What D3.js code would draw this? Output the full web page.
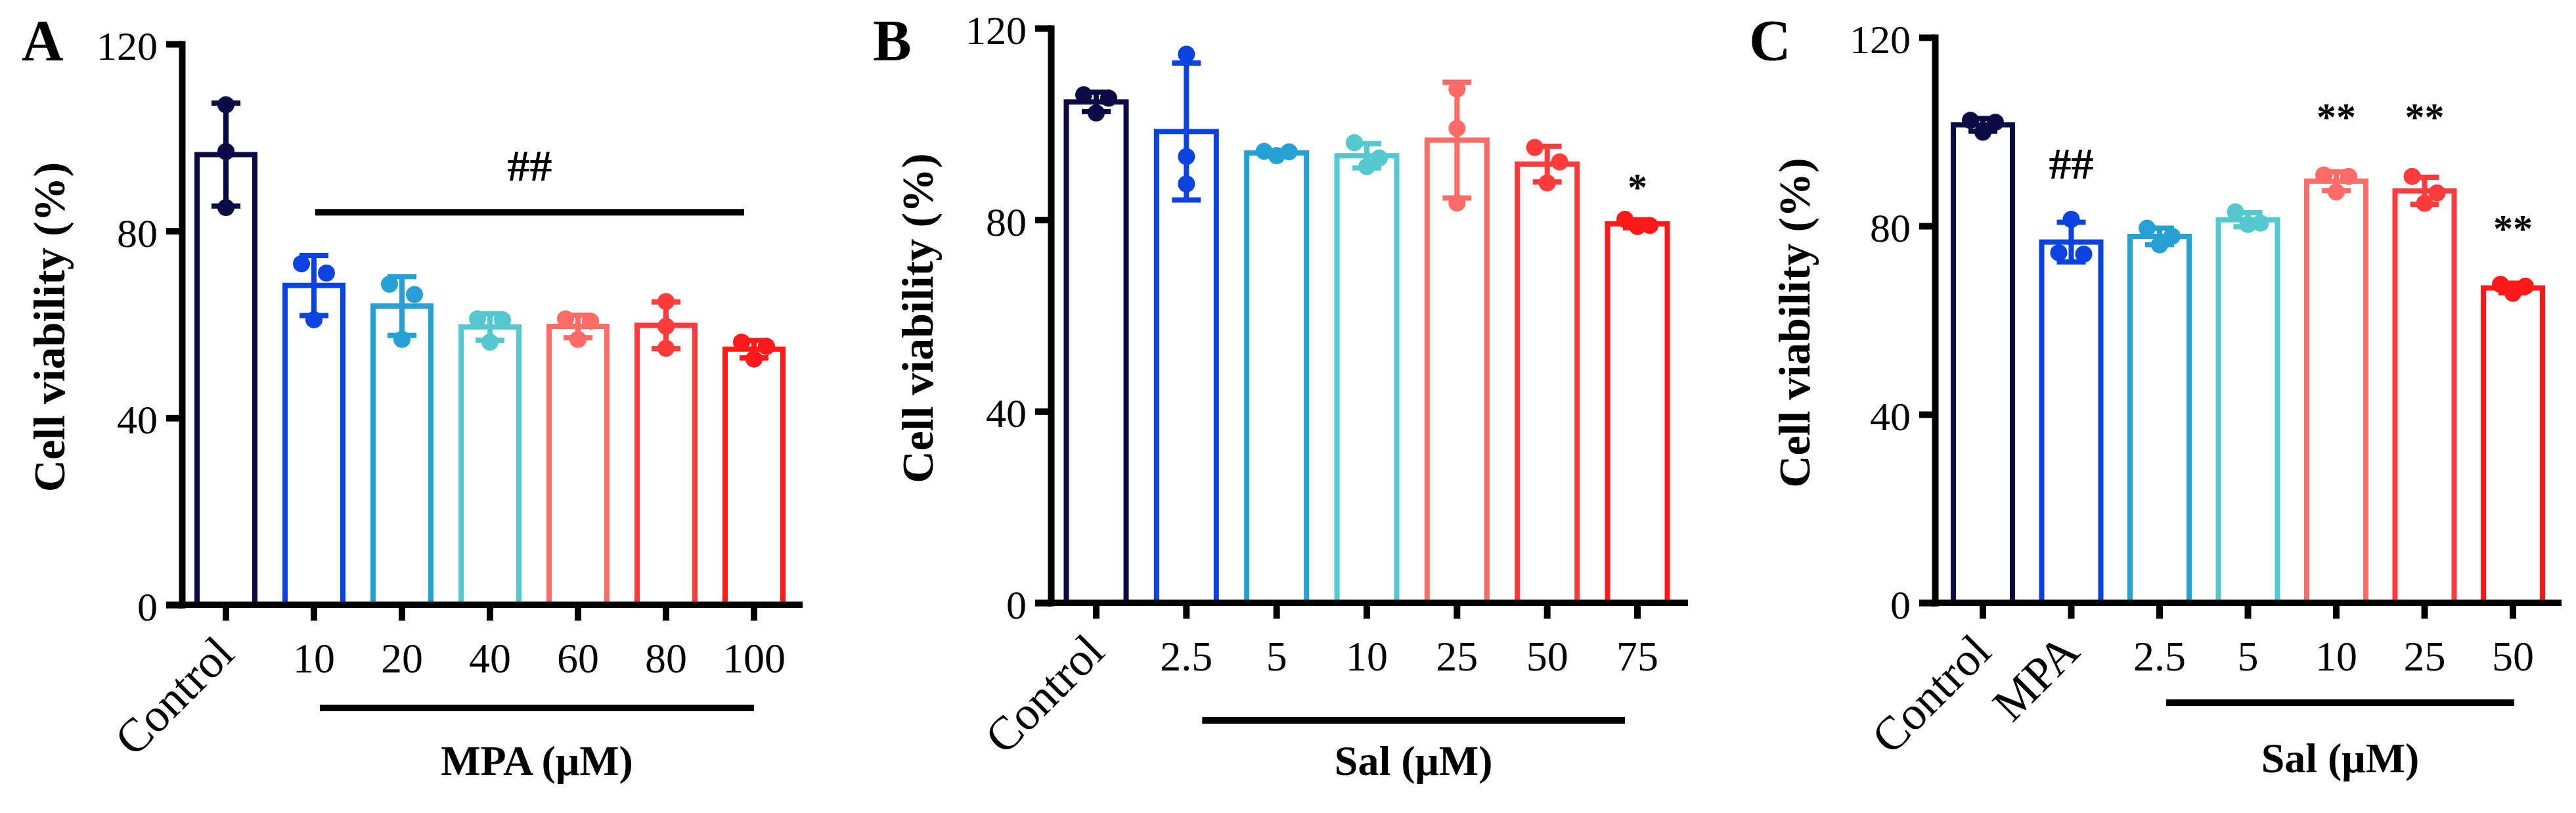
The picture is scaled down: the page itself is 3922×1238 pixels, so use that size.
<!DOCTYPE html>
<html>
<head>
<meta charset="utf-8">
<script src="https://cdn.jsdelivr.net/npm/d3@7"></script>
<style>
  body { margin: 0; background: #fff; }
  svg { display: block; }
</style>
</head>
<body>
<div id="chart"></div>
<script>
// ---- data (cell viability %, three replicates per group) ----
const catsA = ["Control", "10", "20", "40", "60", "80", "100"];
const repsA = [
  [107, 97, 85], [73, 71, 61], [68.6, 66.4, 56.8], [61.2, 61, 56.2],
  [61.2, 60.7, 56.8], [64.9, 59.6, 54.9], [56.2, 55.3, 52.6]
];
const catsB = ["Control", "2.5", "5", "10", "25", "50", "75"];
const repsB = [
  [106.1, 105.4, 102.3], [114.6, 93.2, 87.5], [94.3, 94.2, 93.4], [96.1, 92.9, 91.1],
  [107.3, 99.1, 83.5], [95.1, 92.1, 87.7], [80.1, 78.8, 78.6]
];
const catsC = ["Control", "MPA", "2.5", "5", "10", "25", "50"];
const repsC = [
  [102.4, 102, 99.9], [81.4, 74.3, 74], [79.5, 77.8, 76], [83, 80.6, 80.3],
  [90.8, 90.5, 87.2], [90.5, 87, 84.8], [67.6, 67.2, 65.7]
];
const barColors = ["#0b0c45", "#0a43e0", "#26a1d6", "#54c9cf", "#ff6b66", "#ff3b3b", "#ff1a1a"];
const yTicks = [0, 40, 80, 120];
const yTitle = "Cell viability (%)";
const groupA = "MPA (μM)";
const groupB = "Sal (μM)";
const groupC = "Sal (μM)";
// significance marks: text placed over a category (value = height on the y scale)
const marksA = [{ from: "10", to: "100", line: 84, text: "##", at: 94 }];
const marksB = [{ from: "75", text: "*", at: 87.9 }];
const marksC = [
  { from: "MPA", text: "##", at: 93.3 },
  { from: "10", text: "**", at: 104.3 },
  { from: "25", text: "**", at: 104.3 },
  { from: "50", text: "**", at: 80.6 }
];

const W = 3922, H = 1238;
const serif = "'Liberation Serif', 'Times New Roman', serif";
const tick = 24;

const svg = d3.select("#chart").append("svg")
  .attr("width", W).attr("height", H);

const panels = [
  { letter: "A", cats: catsA, reps: repsA, marks: marksA, group: groupA, groupCats: ["10", "100"],
    axisX: 277, axisEnd: 1222, yTop: 67, yBot: 921, firstC: 344, lastC: 1148, barW: 88,
    bracketY: 1078, bracketInset: [9, 0], groupY: 1180, titleX: 98, letterX: 33 },
  { letter: "B", cats: catsB, reps: repsB, marks: marksB, group: groupB, groupCats: ["2.5", "75"],
    axisX: 1600, axisEnd: 2570, yTop: 43, yBot: 918, firstC: 1669, lastC: 2493, barW: 91,
    bracketY: 1097, bracketInset: [24, -19], groupY: 1180, titleX: 1420, letterX: 1329 },
  { letter: "C", cats: catsC, reps: repsC, marks: marksC, group: groupC, groupCats: ["2.5", "50"],
    axisX: 2946, axisEnd: 3900, yTop: 57, yBot: 918, firstC: 3019, lastC: 3826, barW: 90,
    bracketY: 1070, bracketInset: [10, 2], groupY: 1176, titleX: 2755, letterX: 2663 }
];

// spread replicate dots: rows of up to 2 dots when they would overlap
function dotOffsets(vals, y) {
  const order = vals.map((v, i) => i).sort((a, b) => vals[b] - vals[a]);
  const off = new Array(vals.length).fill(0);
  let row = [];
  const flush = () => {
    if (row.length === 2) { off[row[0]] = -19; off[row[1]] = 19; }
    else if (row.length === 1) off[row[0]] = 0;
    row = [];
  };
  order.forEach(i => {
    if (row.length && (row.length >= 2 || y(vals[i]) - y(vals[row[0]]) > 26)) flush();
    row.push(i);
  });
  flush();
  return off;
}

panels.forEach(p => {
  const g = svg.append("g");
  const y = d3.scaleLinear().domain([0, 120]).range([p.yBot, p.yTop]);
  const step = (p.lastC - p.firstC) / (p.cats.length - 1);
  const pad = 1 - p.barW / step;
  const x = d3.scaleBand().domain(p.cats)
    .range([p.firstC - step / 2, p.lastC + step / 2])
    .paddingInner(pad).paddingOuter(pad / 2);
  const cx = c => x(c) + x.bandwidth() / 2;

  const stats = p.reps.map((r, i) => ({
    cat: p.cats[i], reps: r, mean: d3.mean(r), sd: d3.deviation(r), color: barColors[i]
  }));

  // bars
  g.selectAll("rect.bar").data(stats).join("rect")
    .attr("class", "bar")
    .attr("x", d => x(d.cat))
    .attr("width", x.bandwidth())
    .attr("y", d => y(d.mean))
    .attr("height", d => y(0) - y(d.mean))
    .attr("fill", "#fff")
    .attr("stroke", d => d.color)
    .attr("stroke-width", 8);

  // error bars
  const eb = g.selectAll("g.err").data(stats).join("g").attr("class", "err")
    .attr("stroke", d => d.color).attr("stroke-width", 8);
  eb.append("line")
    .attr("x1", d => cx(d.cat)).attr("x2", d => cx(d.cat))
    .attr("y1", d => y(d.mean + d.sd)).attr("y2", d => y(d.mean - d.sd));
  eb.append("line")
    .attr("x1", d => cx(d.cat) - 22).attr("x2", d => cx(d.cat) + 22)
    .attr("y1", d => y(d.mean + d.sd)).attr("y2", d => y(d.mean + d.sd));
  eb.append("line")
    .attr("x1", d => cx(d.cat) - 22).attr("x2", d => cx(d.cat) + 22)
    .attr("y1", d => y(d.mean - d.sd)).attr("y2", d => y(d.mean - d.sd));

  // replicate dots
  stats.forEach(s => {
    const off = dotOffsets(s.reps, y);
    g.selectAll(null).data(s.reps).join("circle")
      .attr("cx", (d, i) => cx(s.cat) + off[i])
      .attr("cy", d => y(d))
      .attr("r", 13)
      .attr("fill", s.color);
  });

  // y axis
  const ya = g.append("g")
    .attr("transform", `translate(${p.axisX},0)`)
    .call(d3.axisLeft(y).tickValues(yTicks).tickSize(tick).tickSizeOuter(0).tickPadding(13));
  ya.select(".domain").attr("stroke", "#000").attr("stroke-width", 10).attr("stroke-linecap", "square");
  ya.selectAll(".tick line").attr("stroke", "#000").attr("stroke-width", 10);
  ya.selectAll(".tick text")
    .attr("font-family", serif).attr("font-size", 62).attr("fill", "#000")
    .attr("dy", "0.38em");

  // x axis
  const xa = g.append("g")
    .attr("transform", `translate(0,${y(0)})`)
    .call(d3.axisBottom(x).tickSize(tick).tickSizeOuter(0).tickPadding(34));
  xa.select(".domain").remove();
  xa.append("line")
    .attr("x1", p.axisX - tick).attr("x2", p.axisEnd)
    .attr("stroke", "#000").attr("stroke-width", 10);
  xa.selectAll(".tick line").attr("stroke", "#000").attr("stroke-width", 10);
  xa.selectAll(".tick text")
    .attr("font-family", serif).attr("font-size", 64).attr("fill", "#000")
    .filter(d => isNaN(+d))
    .attr("y", null).attr("dy", null)
    .attr("font-size", 72)
    .attr("text-anchor", "end")
    .attr("transform", "translate(16,78) rotate(-45)");

  // group bracket and label under the axis
  const gx1 = cx(p.groupCats[0]) + p.bracketInset[0];
  const gx2 = cx(p.groupCats[1]) + p.bracketInset[1];
  g.append("line")
    .attr("x1", gx1).attr("x2", gx2)
    .attr("y1", p.bracketY).attr("y2", p.bracketY)
    .attr("stroke", "#000").attr("stroke-width", 10);
  g.append("text")
    .attr("x", (gx1 + gx2) / 2).attr("y", p.groupY)
    .attr("text-anchor", "middle")
    .attr("font-family", serif).attr("font-weight", "bold").attr("font-size", 64)
    .text(p.group);

  // y title
  g.append("text")
    .attr("transform", `translate(${p.titleX},${(p.yTop + p.yBot) / 2 + 4}) rotate(-90)`)
    .attr("text-anchor", "middle")
    .attr("font-family", serif).attr("font-weight", "bold").attr("font-size", 68)
    .text(yTitle);

  // panel letter
  g.append("text")
    .attr("x", p.letterX).attr("y", 91)
    .attr("font-family", serif).attr("font-weight", "bold").attr("font-size", 88)
    .text(p.letter);

  // significance marks
  p.marks.forEach(m => {
    let mx = cx(m.from);
    if (m.to) {
      const x1 = cx(m.from) + 2, x2 = cx(m.to) - 15;
      g.append("line")
        .attr("x1", x1).attr("x2", x2)
        .attr("y1", y(m.line)).attr("y2", y(m.line))
        .attr("stroke", "#000").attr("stroke-width", 10);
      mx = (x1 + x2) / 2;
    }
    const star = m.text.startsWith("*");
    g.append("text")
      .attr("x", mx)
      .attr("y", y(m.at) + (star ? 28 : 23))
      .attr("text-anchor", "middle")
      .attr("font-family", serif)
      .attr("font-weight", "bold")
      .attr("font-size", star ? 60 : 68)
      .text(m.text);
  });
});
</script>
</body>
</html>
